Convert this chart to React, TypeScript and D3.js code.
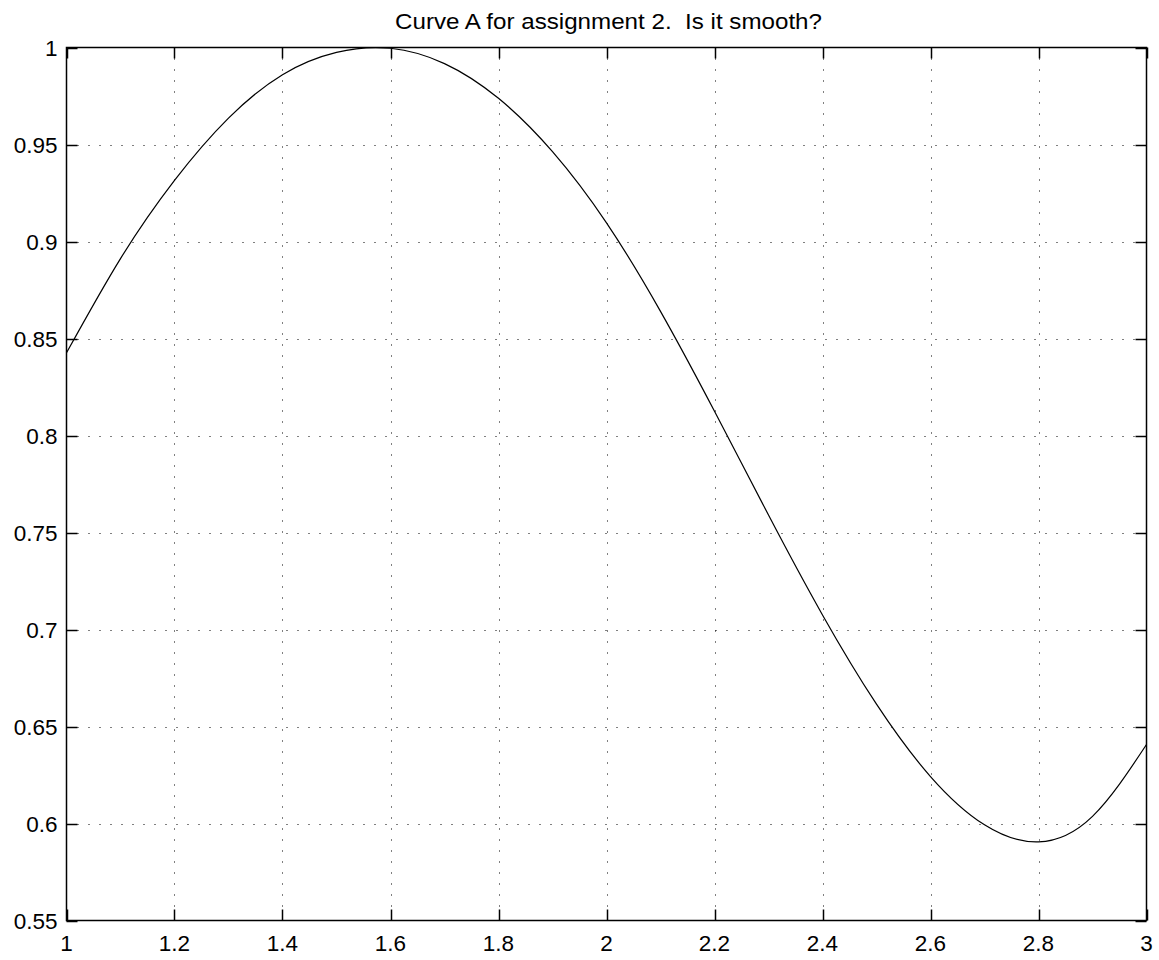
import React, { useEffect, useRef } from 'react';
import * as d3 from 'd3';

// curve samples
const xValues = [1.0, 1.1, 1.2, 1.3, 1.4, 1.5, 1.6, 1.7, 1.8, 1.9, 2.0, 2.1, 2.2, 2.3, 2.4, 2.5, 2.6, 2.7, 2.8, 2.9, 3.0];
const yValues = [0.8426, 0.8912, 0.9315, 0.9636, 0.986, 0.9975, 0.9996, 0.9917, 0.9738, 0.9463, 0.9096, 0.864, 0.8125, 0.759, 0.7075, 0.6615, 0.6242, 0.5993, 0.5905, 0.6037, 0.6407];

const xTicks = [1, 1.2, 1.4, 1.6, 1.8, 2, 2.2, 2.4, 2.6, 2.8, 3];
const yTicks = [0.55, 0.6, 0.65, 0.7, 0.75, 0.8, 0.85, 0.9, 0.95, 1];
const title = 'Curve A for assignment 2.  Is it smooth?';

const App = () => {
  const svgRef = useRef<SVGSVGElement>(null);

  useEffect(() => {
    const width = 1159;
    const height = 960;
    const left = 66.5;
    const right = 1146.5;
    const top = 47.5;
    const bottom = 920.5;
    const font = 'Liberation Sans, Arial, Helvetica, sans-serif';

    const svg = d3.select(svgRef.current);
    svg.selectAll('*').remove();
    svg.attr('width', width).attr('height', height);

    svg.append('rect').attr('width', width).attr('height', height).attr('fill', '#fff');

    const x = d3.scaleLinear().domain([1, 3]).range([left, right]);
    const y = d3.scaleLinear().domain([0.55, 1]).range([bottom, top]);

    // dotted grid
    const grid = svg.append('g')
      .attr('stroke', '#000')
      .attr('stroke-width', 1)
      .attr('stroke-dasharray', '1 10');
    xTicks.slice(1, -1).forEach(t => {
      grid.append('line')
        .attr('x1', Math.round(x(t)) + 0.5).attr('x2', Math.round(x(t)) + 0.5)
        .attr('y1', top).attr('y2', bottom);
    });
    yTicks.slice(1, -1).forEach(t => {
      grid.append('line')
        .attr('y1', Math.round(y(t)) + 0.5).attr('y2', Math.round(y(t)) + 0.5)
        .attr('x1', left).attr('x2', right);
    });

    // curve
    const points = xValues.map((v, i) => [v, yValues[i]] as [number, number]);
    const line = d3.line<[number, number]>()
      .x(d => x(d[0]))
      .y(d => y(d[1]))
      .curve(d3.curveNatural);
    svg.append('path')
      .datum(points)
      .attr('d', line)
      .attr('fill', 'none')
      .attr('stroke', '#000')
      .attr('stroke-width', 1.2);

    // axes box with inward ticks
    const axes = svg.append('g').attr('stroke', '#000').attr('stroke-width', 1.5);
    axes.append('rect')
      .attr('x', left).attr('y', top)
      .attr('width', right - left).attr('height', bottom - top)
      .attr('fill', 'none');
    const tl = 11;
    xTicks.forEach(t => {
      const px = Math.round(x(t)) + 0.5;
      axes.append('line').attr('x1', px).attr('x2', px).attr('y1', bottom).attr('y2', bottom - tl);
      axes.append('line').attr('x1', px).attr('x2', px).attr('y1', top).attr('y2', top + tl);
    });
    yTicks.forEach(t => {
      const py = Math.round(y(t)) + 0.5;
      axes.append('line').attr('x1', left).attr('x2', left + tl).attr('y1', py).attr('y2', py);
      axes.append('line').attr('x1', right).attr('x2', right - tl).attr('y1', py).attr('y2', py);
    });

    // tick labels
    const fmt = d3.format('~g');
    svg.append('g').selectAll('text')
      .data(xTicks)
      .enter()
      .append('text')
      .attr('x', d => x(d))
      .attr('y', 951)
      .attr('text-anchor', 'middle')
      .attr('font-family', font)
      .attr('font-size', 22.5)
      .attr('fill', '#000')
      .text(d => fmt(d));

    svg.append('g').selectAll('text')
      .data(yTicks)
      .enter()
      .append('text')
      .attr('x', left - 9)
      .attr('y', d => y(d))
      .attr('dy', '0.36em')
      .attr('text-anchor', 'end')
      .attr('font-family', font)
      .attr('font-size', 22.5)
      .attr('fill', '#000')
      .text(d => fmt(d));

    // title (keep the double space)
    svg.append('text')
      .attr('x', 395)
      .attr('y', 29)
      .attr('font-family', font)
      .attr('font-size', 22)
      .attr('textLength', 427)
      .attr('lengthAdjust', 'spacingAndGlyphs')
      .style('white-space', 'pre')
      .attr('fill', '#000')
      .text(title);
  }, []);

  return (
    <div style={{ position: 'absolute', left: 0, top: 0 }}>
      <svg ref={svgRef}></svg>
    </div>
  );
};

export default App;
